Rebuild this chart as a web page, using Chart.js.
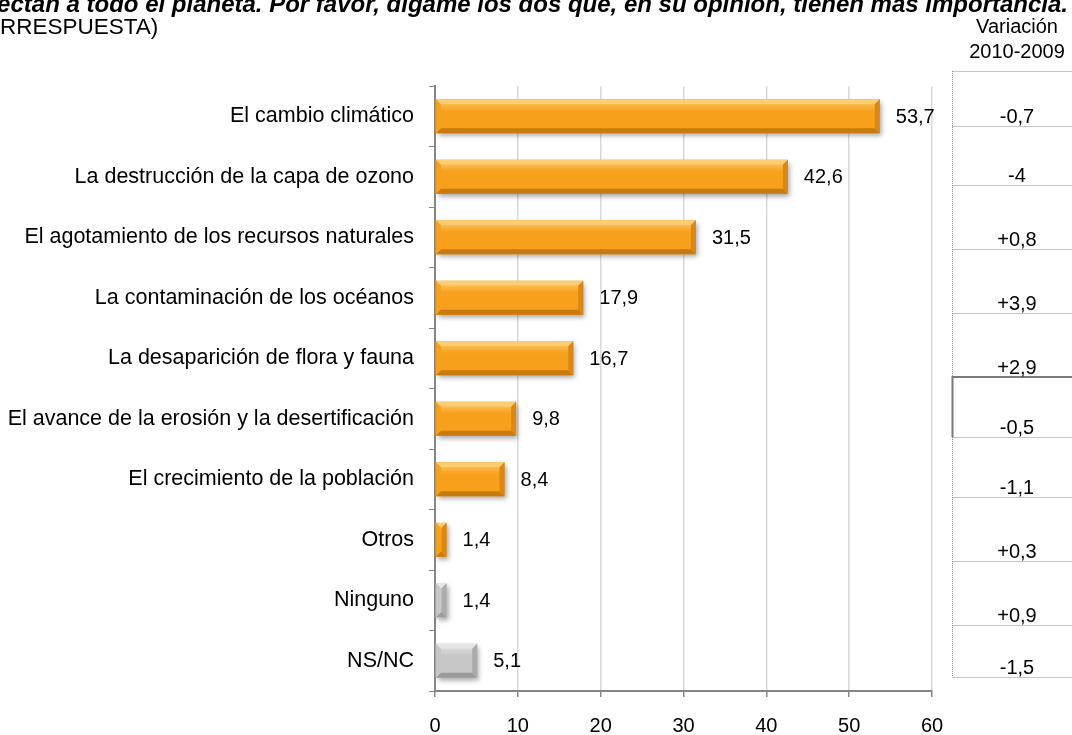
<!DOCTYPE html>
<html>
<head>
<meta charset="utf-8">
<script src="https://cdn.jsdelivr.net/npm/chart.js@4.4.1/dist/chart.umd.min.js"></script>
<style>
  html, body { margin: 0; padding: 0; background: #fff; }
  #wrap { width: 1072px; height: 735px; position: relative; }
</style>
</head>
<body>
<div id="wrap"><canvas id="grafico" width="1072" height="735"></canvas></div>
<script>
// datos
const categorias = [
    'El cambio climático',
    'La destrucción de la capa de ozono',
    'El agotamiento de los recursos naturales',
    'La contaminación de los océanos',
    'La desaparición de flora y fauna',
    'El avance de la erosión y la desertificación',
    'El crecimiento de la población',
    'Otros',
    'Ninguno',
    'NS/NC'
];
const valores = [53.7, 42.6, 31.5, 17.9, 16.7, 9.8, 8.4, 1.4, 1.4, 5.1];
const variacion = ['-0,7', '-4', '+0,8', '+3,9', '+2,9', '-0,5', '-1,1', '+0,3', '+0,9', '-1,5'];
const ticksX = [0, 10, 20, 30, 40, 50, 60];
const tituloLinea1 = 'Existen una serie de problemas medioambientales que afectan a todo el planeta. Por favor, dígame los dos que, en su opinión, tienen más importancia.';
const tituloLinea2 = '(MULTIRRESPUESTA)';
const cabeceraVariacion = ['Variación', '2010-2009'];

const FUENTE = '"Liberation Sans", Arial, sans-serif';
const naranja = { cara: '#F7A01C', alto: '#FCCD72', bajo: '#C97A0E', lado: '#DD870F' };
const gris = { cara: '#C7C7C7', alto: '#E6E6E6', bajo: '#9A9A9A', lado: '#ABABAB' };
const paleta = i => (i >= 8 ? gris : naranja);

// sombra + bisel de las barras
const biselPlugin = {
    id: 'bisel',
    beforeDatasetsDraw(chart) {
        const ctx = chart.ctx;
        ctx.save();
        ctx.shadowColor = 'rgba(0,0,0,0.35)';
        ctx.shadowBlur = 5;
        ctx.shadowOffsetX = 2;
        ctx.shadowOffsetY = 3;
    },
    afterDatasetsDraw(chart) {
        const ctx = chart.ctx;
        ctx.restore();
        const meta = chart.getDatasetMeta(0);
        meta.data.forEach((bar, i) => {
            const p = bar.getProps(['x', 'y', 'base', 'height'], true);
            const x0 = p.base, x1 = p.x, yt = p.y - p.height / 2, yb = p.y + p.height / 2;
            const b = Math.min(5, (x1 - x0) / 2);
            const c = paleta(i);
            const poly = (pts, color) => {
                ctx.beginPath();
                ctx.moveTo(pts[0][0], pts[0][1]);
                pts.slice(1).forEach(q => ctx.lineTo(q[0], q[1]));
                ctx.closePath();
                ctx.fillStyle = color;
                ctx.fill();
            };
            // cara con degradado suave
            const g = ctx.createLinearGradient(0, yt, 0, yb);
            g.addColorStop(0, c.alto);
            g.addColorStop(0.35, c.cara);
            g.addColorStop(1, c.cara);
            poly([[x0 + b, yt + b], [x1 - b, yt + b], [x1 - b, yb - b], [x0 + b, yb - b]], g);
            poly([[x0, yt], [x1, yt], [x1 - b, yt + b], [x0 + b, yt + b]], c.alto);
            poly([[x0, yb], [x1, yb], [x1 - b, yb - b], [x0 + b, yb - b]], c.bajo);
            poly([[x1, yt], [x1, yb], [x1 - b, yb - b], [x1 - b, yt + b]], c.lado);
            poly([[x0, yt], [x0 + b, yt + b], [x0 + b, yb - b], [x0, yb]], c.cara);

            // etiqueta de valor
            ctx.fillStyle = '#000';
            ctx.font = '20px ' + FUENTE;
            ctx.textAlign = 'left';
            ctx.textBaseline = 'middle';
            ctx.fillText(String(valores[i]).replace('.', ','), x1 + 16, p.y + 1);
        });
    }
};

// título recortado y tabla de variación
const extrasPlugin = {
    id: 'extras',
    afterDraw(chart) {
        const ctx = chart.ctx;
        ctx.save();
        ctx.fillStyle = '#000';
        ctx.textBaseline = 'alphabetic';

        ctx.font = 'italic bold 24px ' + FUENTE;
        ctx.textAlign = 'right';
        ctx.fillText(tituloLinea1, 1068, 12);

        ctx.font = '22.5px ' + FUENTE;
        ctx.textAlign = 'left';
        const recorte = ctx.measureText('(MULTI').width;
        ctx.fillText(tituloLinea2, -recorte, 34);

        // cabecera
        const cx = 1017;
        ctx.font = '20px ' + FUENTE;
        ctx.textAlign = 'center';
        ctx.fillText(cabeceraVariacion[0], cx, 33);
        ctx.fillText(cabeceraVariacion[1], cx, 58);

        // celdas (líneas de fila tal como están en el original)
        const filas = [71, 126, 185, 249, 313, 377, 437, 497, 561, 625, 677];
        const left = 952.5, right = 1072;
        ctx.strokeStyle = '#8C8C8C';
        ctx.lineWidth = 1;
        ctx.setLineDash([1, 1]);
        ctx.beginPath();
        ctx.moveTo(left, filas[0]);
        ctx.lineTo(left, filas[filas.length - 1]);
        filas.forEach(f => {
            ctx.moveTo(left, f + 0.5);
            ctx.lineTo(right, f + 0.5);
        });
        ctx.stroke();
        ctx.setLineDash([]);
        // borde sólido de la celda seleccionada
        ctx.strokeStyle = '#7A7A7A';
        ctx.lineWidth = 2;
        ctx.beginPath();
        ctx.moveTo(right, filas[5]);
        ctx.lineTo(left, filas[5]);
        ctx.lineTo(left, filas[6]);
        ctx.stroke();

        ctx.font = '20px ' + FUENTE;
        variacion.forEach((v, k) => {
            ctx.fillText(v, cx, filas[k + 1] - 3);
        });
        ctx.restore();
    }
};

new Chart(document.getElementById('grafico'), {
    type: 'bar',
    data: {
        labels: categorias,
        datasets: [{
            data: valores,
            backgroundColor: valores.map((v, i) => paleta(i).cara),
            borderWidth: 0,
            categoryPercentage: 1,
            barPercentage: 0.56
        }]
    },
    options: {
        indexAxis: 'y',
        responsive: false,
        animation: false,
        layout: { padding: { top: 86, right: 140, left: 0, bottom: 0 } },
        plugins: {
            legend: { display: false },
            tooltip: { enabled: false }
        },
        scales: {
            x: {
                min: 0,
                max: 60,
                afterBuildTicks: scale => { scale.ticks = ticksX.map(v => ({ value: v })); },
                afterFit: scale => { scale.height = 44; },
                grid: { color: '#D9D9D9', tickColor: '#868686', tickLength: 6, lineWidth: 1.5 },
                border: { color: '#868686', width: 2 },
                ticks: { color: '#000', font: { size: 20, family: FUENTE }, padding: 17 }
            },
            y: {
                afterFit: scale => { scale.width = 435; },
                grid: { drawOnChartArea: false, tickColor: '#868686', tickLength: 6, offset: true },
                border: { color: '#868686', width: 2 },
                ticks: { color: '#000', font: { size: 21.5, family: FUENTE }, padding: 15 }
            }
        }
    },
    plugins: [biselPlugin, extrasPlugin]
});
</script>
</body>
</html>
